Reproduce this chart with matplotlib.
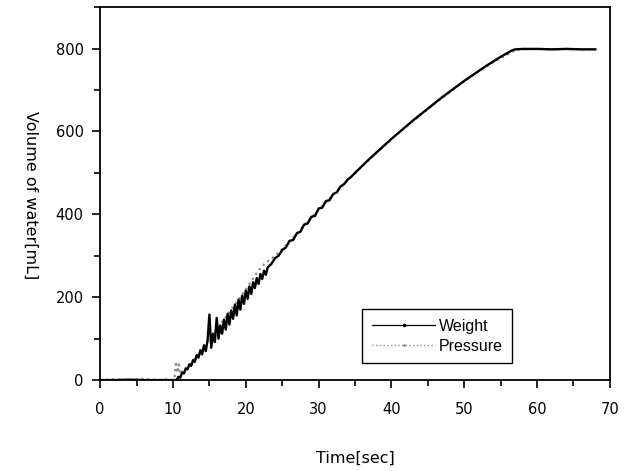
import matplotlib.pyplot as plt
from matplotlib.lines import Line2D
from matplotlib.ticker import MultipleLocator

# Weight series (s, mL)
weight_t = [0, 2, 4, 6, 8, 10, 10.5,
            10.75, 11, 11.25, 11.5, 11.75, 12, 12.25, 12.5, 12.75, 13,
            13.25, 13.5, 13.75, 14, 14.25, 14.5, 14.75, 15, 15.25, 15.5,
            15.75, 16, 16.25, 16.5, 16.75, 17, 17.25, 17.5, 17.75, 18,
            18.25, 18.5, 18.75, 19, 19.25, 19.5, 19.75, 20, 20.25, 20.5,
            20.75, 21, 21.25, 21.5, 21.75, 22, 22.25, 22.5, 22.75, 23,
            23.5, 24, 24.5, 25, 25.5, 26, 26.5, 27, 27.5, 28, 28.5, 29,
            29.5, 30, 30.5, 31, 31.5, 32, 32.5, 33, 33.5, 34, 34.5, 35,
            36, 37, 38, 39, 40, 41, 42, 43, 44, 45, 46, 47, 48, 49, 50,
            51, 52, 53, 54, 55, 56, 56.5, 57, 58, 60, 62, 64, 66, 68]
weight_v = [0, 0, 1, 0, 0, 0, 0,
            8, 6, 18, 16, 28, 26, 38, 34, 48, 44,
            60, 54, 72, 62, 84, 70, 96, 158, 78, 112, 92, 150, 100, 132,
            112, 146, 122, 160, 134, 168, 148, 182, 156, 194, 170, 204,
            184, 216, 196, 226, 208, 236, 222, 246, 232, 256, 244, 264,
            254, 272, 280, 294, 300, 314, 320, 336, 338, 354, 358, 375,
            378, 394, 396, 414, 416, 432, 434, 449, 453, 467, 473, 484,
            491, 500, 517, 534, 550, 566, 582, 597, 612, 627, 641, 655,
            669, 683, 696, 709, 722, 734, 746, 758, 769, 780, 790, 795,
            798, 799, 799, 798, 799, 798, 798]

# Pressure series (s, mL)
pressure_t = [0, 2, 4, 6, 8, 9, 10, 10.2, 10.4, 10.6, 10.8, 11, 11.5, 12,
              12.5, 13, 13.5, 14, 14.5, 15, 15.5, 16, 16.5, 17, 17.5, 18,
              18.5, 19, 19.5, 20, 20.5, 21, 21.5, 22, 22.5, 23, 23.5, 24,
              25, 26, 27, 28, 29, 30, 32, 34, 36, 38, 40, 42, 44, 46, 48,
              50, 52, 54, 55, 56, 56.5, 57, 58, 60, 62, 64, 66, 68]
pressure_v = [0, 2, 0, 3, 0, 2, 0, 5, 45, 18, 38, 14, 26, 30,
              42, 52, 62, 74, 88, 100, 110, 122, 134, 146, 157, 170,
              182, 194, 206, 218, 232, 245, 258, 270, 279, 286, 293, 300,
              316, 334, 353, 373, 392, 411, 447, 482, 516, 549, 581, 611,
              640, 668, 695, 721, 745, 767, 777, 786, 791, 796, 798, 799,
              798, 799, 798, 798]

fig = plt.figure(figsize=(6.34, 4.71), dpi=100)
ax = fig.add_axes([0.158, 0.193, 0.804, 0.792])
plt.rcParams['font.family'] = ['Liberation Sans', 'DejaVu Sans']

ax.plot(pressure_t, pressure_v, color='#8c8c8c', lw=1.6, ls=':')
ax.plot(weight_t, weight_v, color='black', lw=1.7)

ax.set_xlim(0, 70)
ax.set_ylim(0, 900)
ax.xaxis.set_major_locator(MultipleLocator(10))
ax.xaxis.set_minor_locator(MultipleLocator(5))
ax.set_yticks([0, 200, 400, 600, 800])
ax.yaxis.set_minor_locator(MultipleLocator(100))
ax.tick_params(which='major', direction='out', length=6, width=1.2,
               labelsize=10.5, pad=6)
ax.tick_params(which='minor', direction='out', length=4, width=1.2)
ax.tick_params(axis='x', pad=10)
for sp in ax.spines.values():
    sp.set_linewidth(1.3)

ax.set_xlabel('Time[sec]', fontsize=11.5)
ax.xaxis.set_label_coords(0.5, -0.19)
ax.set_ylabel('Volume of water[mL]', fontsize=11.5, rotation=-90,
              va='center', ha='center')
ax.yaxis.set_label_coords(-0.137, 0.496)

handles = [Line2D([], [], color='black', lw=0.9, marker='.', ms=3),
           Line2D([], [], color='#8c8c8c', lw=1.0, ls=':', marker='.', ms=2)]
leg = ax.legend(handles, ['Weight', 'Pressure'], loc='lower left',
                bbox_to_anchor=(0.498, 0.024), fontsize=11.5,
                handlelength=4, fancybox=False, framealpha=1,
                edgecolor='black', borderpad=0.6, labelspacing=0.3,
                handletextpad=0.2)
leg.get_frame().set_linewidth(1.0)

fig.savefig('out.png', dpi=100)
